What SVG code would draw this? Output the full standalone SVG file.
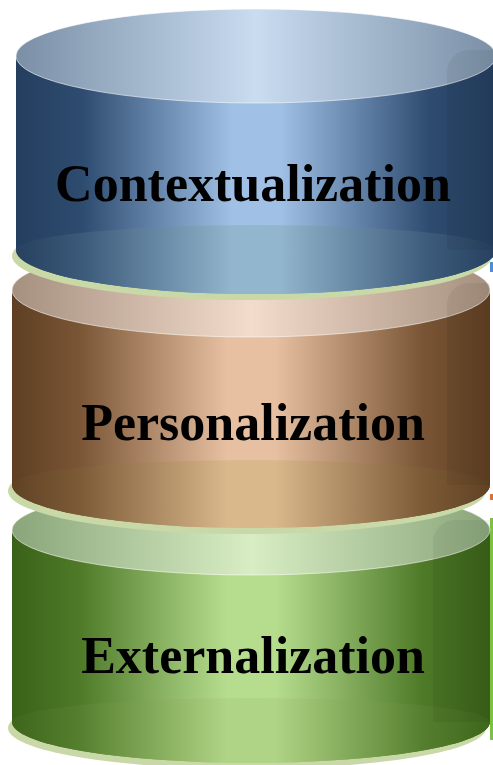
<svg xmlns="http://www.w3.org/2000/svg" width="493" height="765" viewBox="0 0 493 765">
<defs>
<style>
.lbl{font-family:"Liberation Serif","Times New Roman",serif;font-weight:bold;font-size:52px;fill:#000;text-anchor:middle}
.shadow{fill:#c8d8a6}
.rim{stroke:#ffffff;stroke-opacity:0.7;stroke-width:0.8}
.strip{fill:#000;fill-opacity:0.05}
</style>
<linearGradient id="bBody" x1="0" x2="1" y1="0" y2="0">
<stop offset="0" stop-color="#243e5e"/><stop offset="0.14" stop-color="#2e4c70"/><stop offset="0.45" stop-color="#a0c0e6"/><stop offset="0.55" stop-color="#a0c0e6"/><stop offset="0.86" stop-color="#2e4c70"/><stop offset="1" stop-color="#243e5e"/>
</linearGradient>
<linearGradient id="bTop" x1="0" x2="1" y1="0" y2="0">
<stop offset="0" stop-color="#7a8fa6"/><stop offset="0.5" stop-color="#c9dcf0"/><stop offset="1" stop-color="#7a8fa6"/>
</linearGradient>
<linearGradient id="bLow" x1="0" x2="1" y1="0" y2="0">
<stop offset="0" stop-color="#27415f"/><stop offset="0.14" stop-color="#3c5a7a"/><stop offset="0.45" stop-color="#92b6cd"/><stop offset="0.55" stop-color="#92b6cd"/><stop offset="0.86" stop-color="#3c5a7a"/><stop offset="1" stop-color="#27415f"/>
</linearGradient>
<linearGradient id="rBody" x1="0" x2="1" y1="0" y2="0">
<stop offset="0" stop-color="#5e3f22"/><stop offset="0.14" stop-color="#7a5535"/><stop offset="0.45" stop-color="#e6c0a0"/><stop offset="0.55" stop-color="#e6c0a0"/><stop offset="0.86" stop-color="#7a5535"/><stop offset="1" stop-color="#5e3f22"/>
</linearGradient>
<linearGradient id="rTop" x1="0" x2="1" y1="0" y2="0">
<stop offset="0" stop-color="#a58f7e"/><stop offset="0.5" stop-color="#f3dccb"/><stop offset="1" stop-color="#a58f7e"/>
</linearGradient>
<linearGradient id="rLow" x1="0" x2="1" y1="0" y2="0">
<stop offset="0" stop-color="#604224"/><stop offset="0.14" stop-color="#7c5a36"/><stop offset="0.45" stop-color="#d9b88c"/><stop offset="0.55" stop-color="#d9b88c"/><stop offset="0.86" stop-color="#7c5a36"/><stop offset="1" stop-color="#604224"/>
</linearGradient>
<linearGradient id="gBody" x1="0" x2="1" y1="0" y2="0">
<stop offset="0" stop-color="#3a6118"/><stop offset="0.14" stop-color="#4e7a28"/><stop offset="0.45" stop-color="#b6dd8e"/><stop offset="0.55" stop-color="#b6dd8e"/><stop offset="0.86" stop-color="#4e7a28"/><stop offset="1" stop-color="#3a6118"/>
</linearGradient>
<linearGradient id="gTop" x1="0" x2="1" y1="0" y2="0">
<stop offset="0" stop-color="#8aa57a"/><stop offset="0.5" stop-color="#d8edc4"/><stop offset="1" stop-color="#8aa57a"/>
</linearGradient>
<linearGradient id="gLow" x1="0" x2="1" y1="0" y2="0">
<stop offset="0" stop-color="#3e661c"/><stop offset="0.14" stop-color="#557f2e"/><stop offset="0.45" stop-color="#b0d485"/><stop offset="0.55" stop-color="#b0d485"/><stop offset="0.86" stop-color="#557f2e"/><stop offset="1" stop-color="#3e661c"/>
</linearGradient>
</defs>
<rect width="493" height="765" fill="#ffffff"/>
<rect x="490" y="262" width="3" height="10" fill="#4a8fd8"/>
<rect x="490" y="494" width="3" height="6" fill="#e07030"/>
<rect x="490" y="518" width="3" height="222" fill="#7cc242"/>

<g id="externalization">
<ellipse class="shadow" cx="247" cy="728" rx="239" ry="41"/>
<path d="M12,530 V722 A239,41 0 0 0 490,722 V530 Z" fill="url(#gBody)"/>
<path d="M12,722 A239,24 0 0 1 490,722 A239,41 0 0 1 12,722 Z" fill="url(#gLow)"/>
<ellipse class="rim" cx="251" cy="530" rx="239" ry="45" fill="url(#gTop)"/>
<path class="strip" d="M433,722 V542 A22,22 0 0 1 455,520 H490 V722 Z"/>
<text class="lbl" x="253" y="673">Externalization</text>
</g>

<g id="personalization">
<ellipse class="shadow" cx="247" cy="491" rx="239" ry="43"/>
<path d="M12,290 V485 A239,43 0 0 0 490,485 V290 Z" fill="url(#rBody)"/>
<path d="M12,485 A239,25 0 0 1 490,485 A239,43 0 0 1 12,485 Z" fill="url(#rLow)"/>
<ellipse class="rim" cx="251" cy="290" rx="239" ry="47" fill="url(#rTop)"/>
<path class="strip" d="M447,485 V305 A22,22 0 0 1 469,283 H490 V485 Z"/>
<text class="lbl" x="253" y="440">Personalization</text>
</g>

<g id="contextualization">
<ellipse class="shadow" cx="252" cy="256" rx="240" ry="44"/>
<path d="M16,56 V250 A240,44 0 0 0 496,250 V56 Z" fill="url(#bBody)"/>
<path d="M16,250 A240,25 0 0 1 496,250 A240,44 0 0 1 16,250 Z" fill="url(#bLow)"/>
<ellipse class="rim" cx="256" cy="56" rx="240" ry="47" fill="url(#bTop)"/>
<path class="strip" d="M447,250 V72 A22,22 0 0 1 469,50 H493 V250 Z"/>
<text class="lbl" x="253" y="201">Contextualization</text>
</g>

<g id="connectors"/>
</svg>
